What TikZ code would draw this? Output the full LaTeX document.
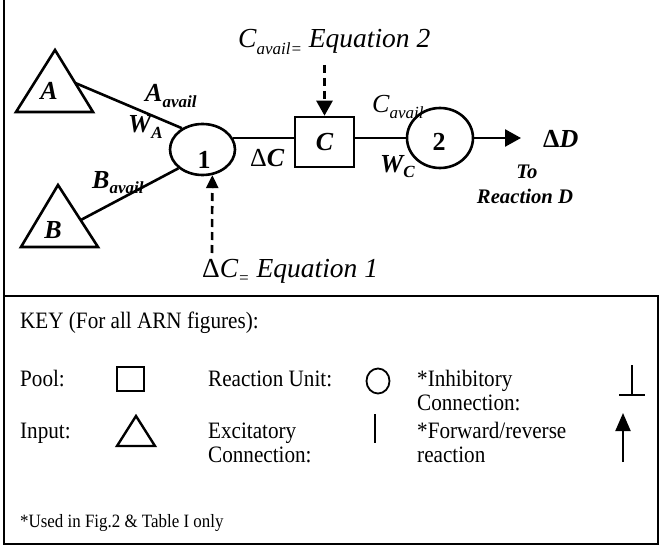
\documentclass[tikz,border=0pt]{standalone}
\usepackage{fontspec}
\setmainfont{Liberation Serif}
\newfontfamily\keyfam[FakeStretch=0.9]{Liberation Serif}
\usetikzlibrary{shapes.geometric,arrows.meta}
\newcommand{\bigf}{\fontsize{26}{30}\selectfont}
\newcommand{\eqf}{\fontsize{27.5}{32}\selectfont}
\newcommand{\subf}{\fontsize{17}{17}\selectfont}
\newcommand{\keyf}{\keyfam\fontsize{23.5}{26}\selectfont}
\newcommand{\smf}{\keyfam\fontsize{18.8}{21}\selectfont}
\newcommand{\todf}{\fontsize{20.7}{24}\selectfont}
\newcommand{\lsub}[1]{\raisebox{-0.22em}{\subf #1}}
\begin{document}
\begin{tikzpicture}[x=1pt,y=-1pt,
  thickline/.style={line width=2.6pt},
  unit/.style={ellipse, draw, line width=2.6pt, inner sep=0pt},
  pool/.style={rectangle, draw, line width=2.6pt, inner sep=0pt},
  lbl/.style={anchor=base west, inner sep=0pt},
  clbl/.style={anchor=base, inner sep=0pt},
  dashline/.style={line width=2.6pt, dash pattern=on 8pt off 5pt},
  frame/.style={line width=2pt},
  keyline/.style={line width=2pt}]
\useasboundingbox (0,0) rectangle (660,548);

% ---------- frame ----------
\coordinate (f1) at (4,0);
\coordinate (f2) at (4,544);
\coordinate (f3) at (658,544);
\coordinate (f4) at (658,296);
\coordinate (f5) at (4,296);
\draw[frame] (f1) -- (f2) -- (f3) -- (f4) -- (f5);

% ---------- inputs ----------
\coordinate (tA1) at (55,50);
\coordinate (tA2) at (93,112);
\coordinate (tA3) at (16,112);
\draw[thickline, line join=miter] (tA1) -- (tA2) -- (tA3) -- cycle;
\node[clbl] (lA) at (49,100) {\bigf\bfseries\itshape A};
\coordinate (tB1) at (58,185);
\coordinate (tB2) at (98,247);
\coordinate (tB3) at (21,247);
\draw[thickline, line join=miter] (tB1) -- (tB2) -- (tB3) -- cycle;
\node[clbl] (lB) at (53,238) {\bigf\bfseries\itshape B};
\coordinate (pA) at (75.3,83);
\coordinate (pB) at (80.8,220);

% ---------- units and pool ----------
\node[unit, minimum width=65pt, minimum height=51pt] (c1) at (202.5,149.5) {};
\node[clbl] (n1) at (204,168) {\bigf\bfseries 1};
\node[pool, minimum width=59pt, minimum height=50pt] (box) at (324.5,142) {\bigf\bfseries\itshape C};
\node[unit, minimum width=66pt, minimum height=60pt] (c2) at (440,138) {};
\node[clbl] (n2) at (439,150) {\bigf\bfseries 2};
\coordinate (dtip) at (521,138);
\coordinate (e2) at (324.5,65);
\coordinate (e1) at (212,253);

% ---------- connectors ----------
\draw[thickline] (pA) -- (c1.134);
\draw[thickline] (pB) -- (c1.218);
\draw[thickline] (c1.21.6) -- (c1.21.6 -| box.west);
\draw[thickline] (c2.west -| box.east) -- (c2.west);
\draw[thickline, -{Triangle[length=16pt,width=17pt]}] (c2.east) -- (dtip);
\draw[dashline, -{Triangle[length=15pt,width=16pt]}] (e2) -- (box.north);
\draw[dashline, -{Triangle[length=13pt,width=12pt]}] (e1) -- (c1.291);

% ---------- labels ----------
\node[lbl] (lAav) at (145,102) {\bigf\bfseries\itshape A\lsub{avail}};
\node[lbl] (lWA) at (128,133) {\bigf\bfseries\itshape W\lsub{A}};
\node[lbl] (lBav) at (92,188) {\bigf\bfseries\itshape B\lsub{avail}};
\node[lbl] (ldC) at (250,167) {\bigf Δ{\bfseries\itshape C}};
\node[lbl] (lCav) at (372,113) {\bigf\itshape C\lsub{avail}};
\node[lbl] (lWC) at (380,172) {\bigf\bfseries\itshape W\lsub{C}};
\node[lbl] (ldD) at (543,147) {\bigf\bfseries Δ\itshape D};
\node[clbl] (lTo) at (527,178) {\todf\bfseries\itshape To};
\node[clbl] (lRD) at (525,203) {\todf\bfseries\itshape Reaction D};
\node[lbl] (leq2) at (238,48) {\eqf\itshape C\lsub{avail=} Equation 2};
\node[lbl] (leq1) at (202,277) {\eqf Δ\itshape C\lsub{=} Equation 1};

% ---------- key ----------
\node[lbl] (kkey) at (20,328) {\keyf KEY (For all ARN figures):};
\node[lbl] (kpool) at (20,386) {\keyf Pool:};
\node[rectangle, draw, line width=2pt, minimum width=27pt, minimum height=24pt, inner sep=0pt] (kbox) at (130.5,379) {};
\node[lbl] (kru) at (208,386) {\keyf Reaction Unit:};
\node[ellipse, draw, line width=1.8pt, minimum width=23pt, minimum height=25pt, inner sep=0pt] (kcirc) at (378,381) {};
\node[lbl] (kinh) at (417,386) {\keyf *Inhibitory};
\node[lbl] (kinh2) at (417,410) {\keyf Connection:};
\coordinate (kit) at (632,365);
\coordinate (kib) at (632,394.5);
\coordinate (kil) at (619,394.5);
\coordinate (kir) at (645,394.5);
\draw[keyline] (kit) -- (kib);
\draw[keyline] (kil) -- (kir);

\node[lbl] (kin) at (20,438) {\keyf Input:};
\coordinate (kt1) at (136,416);
\coordinate (kt2) at (155,446);
\coordinate (kt3) at (117,446);
\draw[keyline, line width=2.4pt, line join=miter] (kt1) -- (kt2) -- (kt3) -- cycle;
\node[lbl] (kex) at (208,438) {\keyf Excitatory};
\node[lbl] (kex2) at (208,462) {\keyf Connection:};
\coordinate (kbt) at (375,414);
\coordinate (kbb) at (375,443);
\draw[line width=2.8pt] (kbt) -- (kbb);
\node[lbl] (kfw) at (417,438) {\keyf *Forward/reverse};
\node[lbl] (kfw2) at (417,462) {\keyf reaction};
\coordinate (kab) at (623,462);
\coordinate (kat) at (623,413);
\draw[keyline, -{Triangle[length=18pt,width=15pt]}] (kab) -- (kat);

\node[lbl] (kused) at (20,527) {\smf *Used in Fig.2 \& Table I only};
\end{tikzpicture}
\end{document}
